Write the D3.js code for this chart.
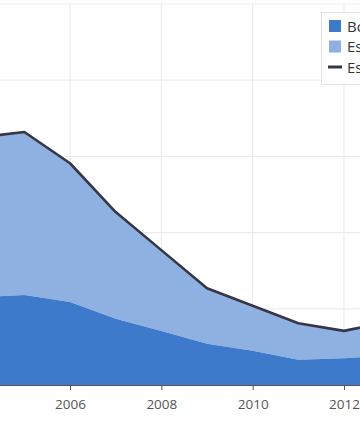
<!DOCTYPE html>
<html><head><meta charset="utf-8">
<script src="https://cdn.jsdelivr.net/npm/d3@7"></script>
<style>html,body{margin:0;padding:0;background:#fff;overflow:hidden}svg{display:block;font-family:"Open Sans",sans-serif}</style>
</head><body>
<svg id="c" width="360" height="427"></svg>
<script>
const years = [2004,2005,2006,2007,2008,2009,2010,2011,2012,2013];
const bottomSeries = [11.5,11.8,10.9,8.7,7.1,5.4,4.5,3.3,3.5,3.9];
const totalSeries = [32.5,33.2,29.1,22.7,17.7,12.7,10.4,8.1,7.1,8.3];
const tickYears = [2006,2008,2010,2012];
const yTicks = [0,10,20,30,40,50];
const legendLabels = ["Bolsa Família","Estimativa","Estimativa total"];
const colors = {dark:"#3d7acb", light:"#8eb1e1", line:"#363646"};

const svg = d3.select("#c");
const x = d3.scaleLinear().domain([2006,2012]).range([70,344]);
const y = d3.scaleLinear().domain([0,50]).range([385,4]);

// grid
svg.append("g").selectAll("line").data(yTicks.slice(1)).join("line")
  .attr("x1",-100).attr("x2",460).attr("y1",d=>y(d)).attr("y2",d=>y(d))
  .attr("stroke","#ececec").attr("stroke-width",1.2);
svg.append("g").selectAll("line").data(tickYears).join("line")
  .attr("x1",d=>x(d)).attr("x2",d=>x(d)).attr("y1",y(50)).attr("y2",y(0))
  .attr("stroke","#ececec").attr("stroke-width",1.2);

const data = years.map((yr,i)=>({yr,b:bottomSeries[i],t:totalSeries[i]}));
svg.append("path").datum(data)
  .attr("d", d3.area().x(d=>x(d.yr)).y0(d=>y(d.b)).y1(d=>y(d.t)))
  .attr("fill",colors.light);
svg.append("path").datum(data)
  .attr("d", d3.area().x(d=>x(d.yr)).y0(y(0)).y1(d=>y(d.b)))
  .attr("fill",colors.dark);
svg.append("path").datum(data)
  .attr("d", d3.line().x(d=>x(d.yr)).y(d=>y(d.t)))
  .attr("fill","none").attr("stroke",colors.line).attr("stroke-width",2.6).attr("stroke-linejoin","round");

// axis
const ax = svg.append("g").attr("transform",`translate(0,${y(0)})`)
  .call(d3.axisBottom(x).tickValues(tickYears).tickFormat(d3.format("d")).tickSize(5).tickSizeOuter(0));
ax.select(".domain").attr("d","M-100,0.5H460").attr("stroke","#555").attr("stroke-width",1.2);
ax.selectAll(".tick line").attr("stroke","#555");
ax.selectAll(".tick text").attr("font-size",13.5).attr("fill","#555").attr("dy","1.15em").attr("font-family","Open Sans");

// legend
const lg = svg.append("g");
lg.append("rect").attr("x",321.5).attr("y",12.5).attr("width",120).attr("height",72)
  .attr("fill","#fff").attr("stroke","#e2e2e2");
const items = lg.selectAll("g").data(legendLabels).join("g")
  .attr("transform",(d,i)=>`translate(329,${26+i*20.5})`);
items.each(function(d,i){
  const g = d3.select(this);
  if(i<2) g.append("rect").attr("x",0).attr("y",-6).attr("width",12).attr("height",12)
    .attr("fill", i===0?colors.dark:colors.light);
  else g.append("line").attr("x1",-1).attr("x2",13).attr("y1",0).attr("y2",0)
    .attr("stroke",colors.line).attr("stroke-width",3);
  g.append("text").attr("x",18).attr("y",5.5).attr("font-size",15).attr("fill","#333").text(d);
});
</script>
</body></html>
